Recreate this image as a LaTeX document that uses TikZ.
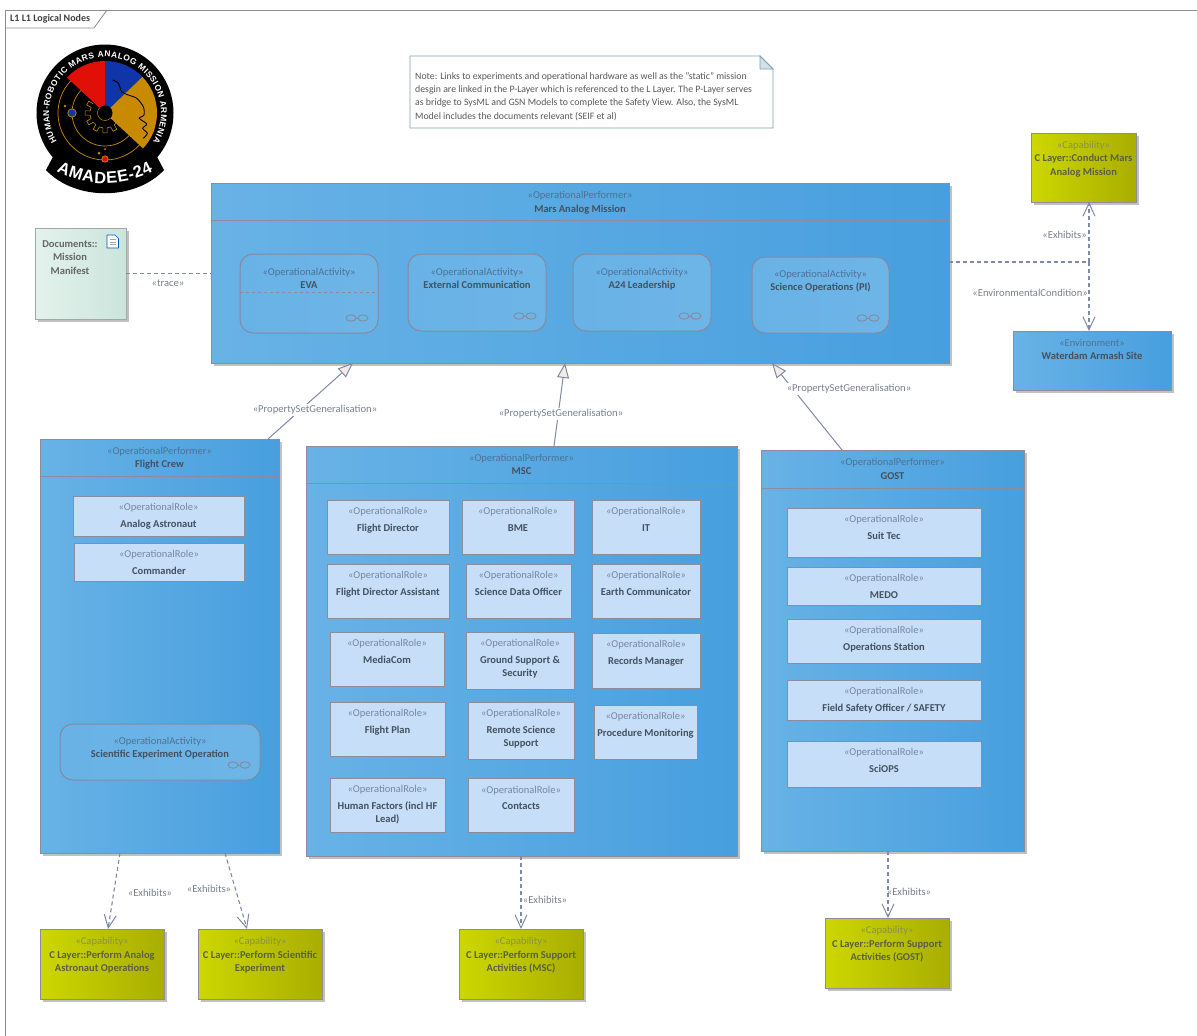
\documentclass[tikz,border=0pt]{standalone}
\usepackage{fontspec}
\setmainfont{Carlito}
\newfontfamily\logofont{Liberation Sans}
\usetikzlibrary{arrows.meta,shadows,decorations.text,calc}
\definecolor{bluel}{HTML}{68B2E6}
\definecolor{bluer}{HTML}{479FDE}
\definecolor{yell}{HTML}{CDD700}
\definecolor{yelr}{HTML}{A9AE00}
\definecolor{rolef}{HTML}{C6DEF7}
\definecolor{edge}{HTML}{8C8C9C}
\definecolor{actedge}{HTML}{868AA0}
\definecolor{conn}{HTML}{7F8AA8}
\definecolor{ster}{HTML}{4F7196}
\definecolor{sterR}{HTML}{7488A4}
\definecolor{sterY}{HTML}{8A9248}
\definecolor{ttl}{HTML}{44515F}
\definecolor{ttlY}{HTML}{5A6040}
\definecolor{lblc}{HTML}{7A808C}
\definecolor{gold}{HTML}{C78A00}
\definecolor{logored}{HTML}{E01008}
\definecolor{logoblue}{HTML}{0F35A8}
\definecolor{genf}{HTML}{F5EBE6}
\definecolor{docl}{HTML}{E3F2EC}
\definecolor{docr}{HTML}{CBE5DC}
\definecolor{noteedge}{HTML}{7FA3B5}
\definecolor{notefold}{HTML}{D5DFE5}
\tikzset{
  shad/.style={drop shadow={shadow xshift=2.5pt,shadow yshift=-2.5pt,fill=black!40,opacity=.6}},
  boxbase/.style={draw=edge,line width=.9pt,inner sep=0pt,outer sep=0pt},
  perfbox/.style={boxbase,shad,left color=bluel,right color=bluer},
  capbox/.style={boxbase,shad,left color=yell,right color=yelr},
  rolestyle/.style={boxbase,fill=rolef},
  actbox/.style={boxbase,draw=actedge,line width=1pt,rounded corners=13pt,left color=bluel,right color=bluel!96!white},
  docbox/.style={draw=black!35,line width=1pt,inner sep=0pt,outer sep=0pt,shad,left color=docl,right color=docr},
  txt/.style={align=center,inner sep=0pt,font=\fontsize{10.5}{13.5}\selectfont,text=ttl},
  conlbl/.style={font=\fontsize{10.6}{12}\selectfont,text=lblc,inner sep=1pt},
  wl/.style={conlbl,fill=white},
  depline/.style={draw=conn,line width=1.1pt,dash pattern=on 4pt off 3pt},
  deparrow/.style={depline,-{Straight Barb[length=13pt,width=12pt,line width=1pt]}},
  genline/.style={draw=conn,line width=1pt,-{Triangle[open,length=15pt,width=12pt,fill=genf,line width=1pt]}},
  seprule/.style={draw=edge,line width=.9pt},
  infi/.style={draw=actedge,line width=.9pt},
  ringg/.style={draw=gold,line width=.7pt},
}
\newcommand\stc{ster}
% name x1 y1 x2 y2 style text-offset stereotype title
\newcommand\umlbox[9]{%
  \pgfmathsetmacro\bw{#4-#2}\pgfmathsetmacro\bh{#5-#3}%
  \pgfmathsetmacro\cx{(#2+#4)/2}\pgfmathsetmacro\ty{#3+#7}%
  \node[#6,minimum width=\bw pt,minimum height=\bh pt,anchor=north west] (#1) at (#2,#3) {};
  \node[txt,anchor=north] (#1-t) at (\cx,\ty) {{\color{\stc}«#8»}\\\bfseries #9};
}
\newcommand\rolebox[6]{%
  \pgfmathsetmacro\bw{#4-#2}\pgfmathsetmacro\bh{#5-#3}%
  \pgfmathsetmacro\cx{(#2+#4)/2}\pgfmathsetmacro\ty{#3+7.5}%
  \node[rolestyle,minimum width=\bw pt,minimum height=\bh pt,anchor=north west] (#1) at (#2,#3) {};
  \node[txt,anchor=north] (#1-t) at (\cx,\ty) {{\color{sterR}«OperationalRole»}\\[3pt]\bfseries #6};
}
\newcommand\infsign[1]{%
  \draw[infi] ([xshift=-27pt,yshift=15pt]#1.south east) ellipse (5pt and 3.2pt);
  \draw[infi] ([xshift=-15pt,yshift=15pt]#1.south east) ellipse (5pt and 3.2pt);
  \draw[infi] ([xshift=-22pt,yshift=15pt]#1.south east) -- ([xshift=-20pt,yshift=15pt]#1.south east);
}
\begin{document}
\begin{tikzpicture}[x=1pt,y=-1pt]
\useasboundingbox (0,0) rectangle (1197,1036);
\fill[white] (0,0) rectangle (1197,1036);
% diagram frame
\draw[draw=black!45,line width=.8pt] (5,1036) -- (5,10) -- (1197,10);
\draw[draw=black!45,line width=.8pt] (5,28) -- (94,28) -- (107,10);
\node[anchor=west,inner sep=0pt,font=\fontsize{10}{12}\selectfont\bfseries,text=black!75] (frametitle) at (10,19) {L1 L1 Logical Nodes};

% logo
\begin{scope}[shift={(105,113)},x=1pt,y=1pt]
  \fill[black] (-59,-57) .. controls (-30,-88) and (30,-88) .. (59,-57) -- (50,-40) -- (-50,-40) -- cycle;
  \fill[black] (0,0) circle (68.5);
  \draw[ringg] (137:47) arc (137:317:47);
  \draw[ringg] (137:33) arc (137:317:33);
  \foreach \a in {150,180,210,240,270,300}{
    \draw[ringg,line width=.6pt] (\a-8:15) -- (\a-6:20) -- (\a+6:20) -- (\a+8:15) arc (\a+8:\a+22:15);
  }
  \fill[logored] (0,0) -- (137:52) arc (137:90:52) -- cycle;
  \fill[logoblue] (0,0) -- (90:52) arc (90:44:52) -- cycle;
  \fill[gold] (0,0) -- (44:52) arc (44:-43:52) -- cycle;
  \draw[black,line width=.9pt] plot[smooth] coordinates {(7.7,33) (13.3,29.7) (16.7,21.3) (23.3,18) (31.7,14.7) (38.3,6.3) (39,-2) (34.3,-5.3) (41.7,-11) (37.7,-15.3) (42.3,-20.3) (38.3,-25.3)};
  \fill[black] (0,0) circle (7.5);
  \draw[ringg,line width=.5pt] (137:7.5) arc (137:317:7.5);
  \draw[ringg,fill=logoblue] (-33,0) circle (4.2);
  \fill[gold] (-40,7) circle (1.4);
  \draw[ringg,fill=logored] (0,-46) circle (3.2);
  \fill[gold] (-6,-40) circle (1.5);
  \fill[gold] (0,-36) circle (1);
  \path[decorate,decoration={text along path,text align={fit to path},
     text={|\logofont\fontsize{8.4}{9}\selectfont\bfseries\color{white}|HUMAN-ROBOTIC MARS ANALOG MISSION ARMENIA}}]
     (211:56) arc (211:-31:56);
  \path[decorate,decoration={text along path,text align={fit to path},
     text={|\logofont\fontsize{16.5}{17}\selectfont\bfseries\color{white}|AMADEE-24}}]
     (-48.5,-58.4) arc (242:298:103);
\end{scope}

% note
\node[anchor=north west,align=left,inner sep=0pt,font=\fontsize{9.8}{13.3}\selectfont,text=black!65] (note) at (415,72)
 {Note: Links to experiments and operational hardware as well as the "static" mission\\
  desgin are linked in the P-Layer which is referenced to the L Layer. The P-Layer serves\\
  as bridge to SysML and GSN Models to complete the Safety View. Also, the SysML\\
  Model includes the documents relevant (SEIF et al)};
\draw[draw=noteedge,line width=.8pt] (410,56) -- (760,56) -- (773,69) -- (773,128) -- (410,128) -- cycle;
\draw[draw=noteedge,line width=.8pt,fill=notefold] (760,56) -- (760,69) -- (773,69) -- cycle;

% Documents
\node[docbox,minimum width=91pt,minimum height=91pt,anchor=north west] (docs) at (35,228) {};
\node[txt,anchor=north,text=black!60,font=\fontsize{10.5}{13.5}\selectfont\bfseries] (docs-t) at (70,240) {Documents::\\Mission\\Manifest};
\draw[draw=blue!50!cyan!70!black,line width=.7pt,fill=white] ([xshift=72pt,yshift=-7pt]docs.north west) -- ++(8pt,0) -- ++(3.5pt,-3.5pt) -- ++(0,-9.5pt) -- ++(-11.5pt,0) -- cycle;
\foreach \dy in {11.5,14,16.5}{\draw[black!35,line width=.7pt] ([xshift=74.5pt,yshift=-\dy pt]docs.north west) -- ++(6.5pt,0);}

% Mars Analog Mission
\umlbox{mars}{211}{183}{949}{363}{perfbox}{8.5}{OperationalPerformer}{Mars Analog Mission}
\draw[seprule] (mars.west |- 0,220) -- (mars.east |- 0,220);
\umlbox{eva}{240}{254}{378}{333}{actbox}{14}{OperationalActivity}{EVA}
\draw[seprule,dashed] (eva.west |- 0,292) -- (eva.east |- 0,292);
\infsign{eva}
\umlbox{extc}{408}{254}{546}{331}{actbox}{14}{OperationalActivity}{External Communication}
\infsign{extc}
\umlbox{lead}{573}{254}{711}{331}{actbox}{14}{OperationalActivity}{A24 Leadership}
\infsign{lead}
\umlbox{sci}{752}{257}{889}{333}{actbox}{13}{OperationalActivity}{Science Operations (PI)}
\infsign{sci}

% Flight Crew
\umlbox{crew}{40}{439}{279}{853}{perfbox}{8}{OperationalPerformer}{Flight Crew}
\draw[seprule] (crew.west |- 0,476) -- (crew.east |- 0,476);
\rolebox{astro}{73}{496}{244}{536}{Analog Astronaut}
\rolebox{cmdr}{74}{543}{244}{581}{Commander}
\umlbox{seo}{60}{724}{260}{780}{actbox}{13}{OperationalActivity}{Scientific Experiment Operation}
\infsign{seo}

% MSC
\umlbox{msc}{306}{446}{737}{856}{perfbox}{8}{OperationalPerformer}{MSC}
\draw[seprule] (msc.west |- 0,483) -- (msc.east |- 0,483);
\rolebox{r1}{327}{500}{449}{554}{Flight Director}
\rolebox{r2}{462}{500}{574}{554}{BME}
\rolebox{r3}{592}{500}{700}{554}{IT}
\rolebox{r4}{327}{564}{449}{618}{Flight Director Assistant}
\rolebox{r5}{466}{564}{571}{618}{Science Data Officer}
\rolebox{r6}{592}{564}{700}{618}{Earth Communicator}
\rolebox{r7}{330}{632}{444}{686}{MediaCom}
\rolebox{r8}{466}{632}{574}{689}{Ground Support \&\\\bfseries Security}
\rolebox{r9}{592}{633}{700}{688}{Records Manager}
\rolebox{r10}{330}{702}{445}{756}{Flight Plan}
\rolebox{r11}{468}{702}{574}{759}{Remote Science\\\bfseries Support}
\rolebox{r12}{594}{705}{697}{759}{Procedure Monitoring}
\rolebox{r13}{330}{778}{445}{832}{Human Factors (incl HF\\\bfseries Lead)}
\rolebox{r14}{468}{778}{574}{832}{Contacts}

% GOST
\umlbox{gost}{761}{450}{1024}{851}{perfbox}{8.5}{OperationalPerformer}{GOST}
\draw[seprule] (gost.west |- 0,488) -- (gost.east |- 0,488);
\rolebox{g1}{787}{508}{981}{557}{Suit Tec}
\rolebox{g2}{787}{567}{981}{605}{MEDO}
\rolebox{g3}{787}{619}{981}{663}{Operations Station}
\rolebox{g4}{787}{680}{981}{720}{Field Safety Officer / SAFETY}
\rolebox{g5}{787}{741}{981}{787}{SciOPS}

% Capabilities and environment
\umlbox{site}{1013}{331}{1171}{390}{perfbox}{8}{Environment}{Waterdam Armash Site}
\begin{scope}[txt/.append style={text=ttlY}]
\renewcommand\stc{sterY}
\umlbox{capA}{40}{929}{164}{999}{capbox}{8}{Capability}{C Layer::Perform Analog\\\bfseries Astronaut Operations}
\umlbox{capS}{198}{929}{322}{999}{capbox}{8}{Capability}{C Layer::Perform Scientific\\\bfseries Experiment}
\umlbox{capM}{459}{929}{583}{999}{capbox}{8}{Capability}{C Layer::Perform Support\\\bfseries Activities (MSC)}
\umlbox{capG}{825}{918}{949}{988}{capbox}{8}{Capability}{C Layer::Perform Support\\\bfseries Activities (GOST)}
\umlbox{capC}{1031}{133}{1136}{202}{capbox}{8}{Capability}{C Layer::Conduct Mars\\\bfseries Analog Mission}
\end{scope}

% connectors
\draw[depline] (docs.east) -- (docs.east -| mars.west);
\node[conlbl] (ltrace) at (168,283) {«trace»};

\draw[genline] ([xshift=228pt]crew.north west) -- ([xshift=142pt]mars.south west);
\draw[genline] ([xshift=248pt]msc.north west) -- ([xshift=354pt]mars.south west);
\draw[genline] ([xshift=81pt]gost.north west) -- ([xshift=561pt]mars.south west);
\node[wl] (lg1) at (315,410) {«PropertySetGeneralisation»};
\node[wl] (lg2) at (561,414) {«PropertySetGeneralisation»};
\node[wl] (lg3) at (849,389) {«PropertySetGeneralisation»};

\draw[deparrow] ([xshift=80pt]crew.south west) -- ([xshift=68pt]capA.north west);
\draw[deparrow] ([xshift=185pt]crew.south west) -- ([xshift=49pt]capS.north west);
\draw[deparrow] ([xshift=215pt]msc.south west) -- ([xshift=62pt]capM.north west);
\draw[deparrow] ([xshift=127pt]gost.south west) -- ([xshift=63pt]capG.north west);
\node[conlbl] (le1) at (150,893) {«Exhibits»};
\node[conlbl] (le2) at (209,889) {«Exhibits»};
\node[conlbl] (le3) at (545,900) {«Exhibits»};
\node[conlbl] (le4) at (909,892) {«Exhibits»};

\coordinate (junc) at (1089,262);
\draw[depline] ([yshift=11pt]mars.east) -- (junc);
\draw[deparrow] (junc) -- ([xshift=58pt]capC.south west);
\draw[deparrow] (junc) -- ([xshift=76pt]site.north west);
\node[conlbl,anchor=east] (le5) at (1088,235) {«Exhibits»};
\node[conlbl,anchor=east] (lec) at (1089,293) {«EnvironmentalCondition»};
\end{tikzpicture}
\end{document}
